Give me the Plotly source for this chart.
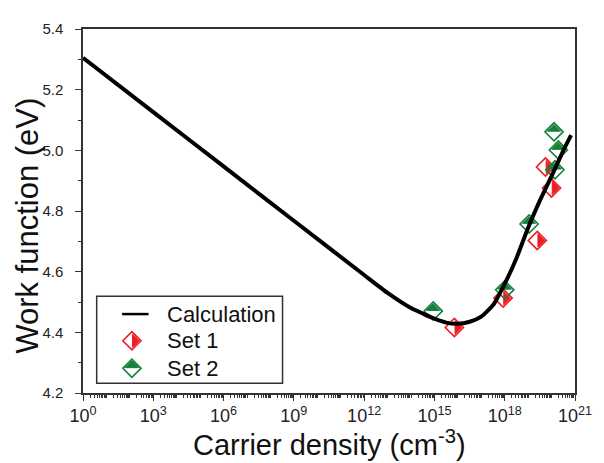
import plotly.graph_objects as go

# ---------------- data ----------------
calc_density = [1e0, 1e3, 1e6, 1e9, 1e12, 1e13, 1e14, 3.2e14, 1e15, 3.2e15, 1e16,
                3.2e16, 1e17, 3.2e17, 1e18, 3.2e18, 1e19, 3.2e19, 1e20, 3.2e20, 6.8e20]
calc_wf = [5.305, 5.126, 4.947, 4.768, 4.589, 4.530, 4.480, 4.462, 4.445, 4.432, 4.428,
           4.435, 4.452, 4.490, 4.560, 4.645, 4.745, 4.835, 4.915, 5.000, 5.050]

set1_density = [7.1e15, 8.5e17, 2.45e19, 5.5e19, 1.0e20]
set1_wf = [4.416, 4.513, 4.703, 4.945, 4.876]

set2_density = [8.9e14, 1.0e18, 1.1e19, 1.27e20, 1.95e20, 1.4e20]
set2_wf = [4.470, 4.540, 4.757, 5.061, 5.001, 4.936]

x_tick_vals = [1e0, 1e3, 1e6, 1e9, 1e12, 1e15, 1e18, 1e21]
x_tick_text = ["10<sup>0</sup>", "10<sup>3</sup>", "10<sup>6</sup>", "10<sup>9</sup>",
               "10<sup>12</sup>", "10<sup>15</sup>", "10<sup>18</sup>", "10<sup>21</sup>"]
legend_names = ["Calculation", "Set 1", "Set 2"]
x_title = "Carrier density (cm<sup>-3</sup>)"
y_title = "Work function (eV)"

# ---------------- layout constants ----------------
# the page body has an 8 px default margin, so the figure is drawn 8 px in
PAGE_OFFSET = 8
W, H = 604 - PAGE_OFFSET, 463 - PAGE_OFFSET
ML, MR, MT, MB = 83 - PAGE_OFFSET, 18, 24 - PAGE_OFFSET, 70
PW, PH = W - ML - MR, H - MT - MB
X_DECADES = (0, 21)
Y_RANGE = (4.2, 5.4)
px_per_decade = PW / (X_DECADES[1] - X_DECADES[0])
px_per_ev = PH / (Y_RANGE[1] - Y_RANGE[0])

RED = "#ee1c24"
GREEN = "#17803a"
FONT = "Liberation Sans, Arial, sans-serif"

DIAMOND_SIZE = 14
TRI_SIZE = 10.4
tri_r = TRI_SIZE / 2
tri_shift_px = 0.566 * tri_r  # centroid-to-hypotenuse distance of plotly triangle-ne

fig = go.Figure()


def half_diamond(xs, ys, color, kind, xaxis="x", yaxis="y", log_x=True):
    """Open diamond + a filled right-angle triangle forming one half of it."""
    fig.add_trace(go.Scatter(
        x=xs, y=ys, mode="markers", xaxis=xaxis, yaxis=yaxis, showlegend=False,
        hoverinfo="skip",
        marker=dict(symbol="diamond-open", size=DIAMOND_SIZE,
                    color=color, line=dict(color=color, width=1.6))))
    if kind == "right":
        if log_x:
            tx = [v * 10 ** (tri_shift_px / px_per_decade) for v in xs]
        else:
            tx = [v + tri_shift_px for v in xs]
        ty = list(ys)
        ang = 45
    else:  # top half
        tx = list(xs)
        if log_x:
            ty = [v + tri_shift_px / px_per_ev for v in ys]
        else:
            ty = [v + tri_shift_px for v in ys]
        ang = -45
    fig.add_trace(go.Scatter(
        x=tx, y=ty, mode="markers", xaxis=xaxis, yaxis=yaxis, showlegend=False,
        hoverinfo="skip",
        marker=dict(symbol="triangle-ne", angle=ang, size=TRI_SIZE,
                    color=color, line=dict(color=color, width=1))))


# data markers
half_diamond(set1_density, set1_wf, RED, "right")
half_diamond(set2_density, set2_wf, GREEN, "top")

# calculation curve (on top)
fig.add_trace(go.Scatter(x=calc_density, y=calc_wf, mode="lines", showlegend=False,
                         line=dict(color="black", width=4, shape="spline", smoothing=0.5)))

# ---------------- custom legend on a pixel-unit overlay axis ----------------
leg_box = (14, 204, 10, 98)       # x0, x1, y0, y1 in plot px (y up)
leg_rows_y = [80, 53, 25]
leg_sym_x = 50
leg_text_x = 84

fig.add_shape(type="rect", xref="x2", yref="y2",
              x0=leg_box[0], x1=leg_box[1], y0=leg_box[2], y1=leg_box[3],
              line=dict(color="#333333", width=1.5), fillcolor="white", layer="below")
fig.add_trace(go.Scatter(x=[leg_sym_x - 10, leg_sym_x + 17],
                         y=[leg_rows_y[0], leg_rows_y[0]], mode="lines",
                         xaxis="x2", yaxis="y2", showlegend=False, hoverinfo="skip",
                         line=dict(color="black", width=2.5)))
half_diamond([leg_sym_x], [leg_rows_y[1]], RED, "right", "x2", "y2", log_x=False)
half_diamond([leg_sym_x], [leg_rows_y[2]], GREEN, "top", "x2", "y2", log_x=False)
for name, yy in zip(legend_names, leg_rows_y):
    fig.add_annotation(x=leg_text_x, y=yy, xref="x2", yref="y2", text=name,
                       showarrow=False, xanchor="left", yanchor="middle",
                       font=dict(family=FONT, size=22, color="#111111"))

# axis titles as annotations (precise placement)
fig.add_annotation(x=0.5, y=-51 / PH, xref="paper", yref="paper", text=x_title,
                   showarrow=False, xanchor="center", yanchor="middle",
                   font=dict(family=FONT, size=29, color="#111111"))
fig.add_annotation(x=-57 / PW, y=0.46, xref="paper", yref="paper", text=y_title,
                   showarrow=False, xanchor="center", yanchor="middle", textangle=-90,
                   font=dict(family=FONT, size=31, color="#111111"))

axis_line = dict(showline=True, linecolor="#333333", linewidth=1.5, mirror=True,
                 showgrid=False, zeroline=False)

minor_x_vals = [float(m) * 10.0 ** e for e in range(0, 21) for m in range(1, 10)]

fig.update_layout(
    width=W, height=H,
    margin=dict(l=ML, r=MR, t=MT, b=MB),
    paper_bgcolor="white", plot_bgcolor="white",
    font=dict(family=FONT, color="#222222"),
    xaxis=dict(
        type="log", range=list(X_DECADES),
        tickmode="array", tickvals=x_tick_vals, ticktext=x_tick_text,
        ticks="outside", ticklen=6, tickwidth=1.2, tickcolor="#333333",
        tickfont=dict(family=FONT, size=18, color="#222222"),
        minor=dict(tickmode="array", tickvals=minor_x_vals,
                   ticks="outside", ticklen=3, tickwidth=1, tickcolor="#333333"),
        **axis_line),
    yaxis=dict(
        range=list(Y_RANGE), tickmode="linear", tick0=4.2, dtick=0.2, tickformat=".1f",
        ticks="outside", ticklen=6, tickwidth=1.2, tickcolor="#333333",
        tickfont=dict(family=FONT, size=15, color="#222222"), ticklabelstandoff=9,
        minor=dict(dtick=0.1, ticks="outside", ticklen=3, tickwidth=1, tickcolor="#333333"),
        **axis_line),
    xaxis2=dict(overlaying="x", anchor="y2", range=[0, PW], visible=False, fixedrange=True),
    yaxis2=dict(overlaying="y", anchor="x2", range=[0, PH], visible=False, fixedrange=True),
    showlegend=False,
)

fig.write_html("out.html")
